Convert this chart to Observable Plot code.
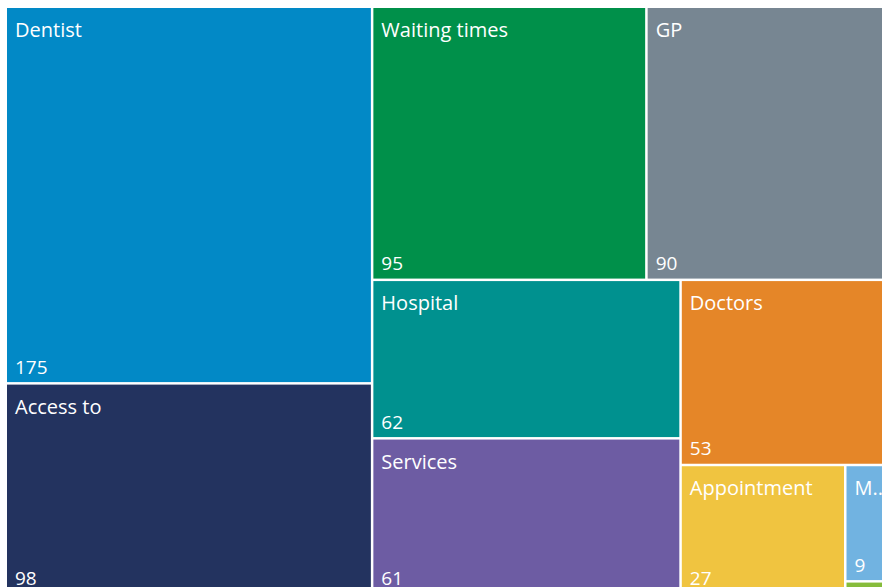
<!DOCTYPE html>
<html>
<head>
<meta charset="utf-8">
<script src="https://cdn.jsdelivr.net/npm/d3@7"></script>
<script src="https://cdn.jsdelivr.net/npm/@observablehq/plot@0.6"></script>
<style>
  html, body { margin: 0; padding: 0; background: #ffffff; }
  #chart { width: 882px; height: 587px; overflow: hidden; }
  svg { display: block; }
</style>
</head>
<body>
<div id="chart"></div>
<script>
// Data
const categories = ["Dentist", "Access to", "Waiting times", "GP", "Hospital", "Services", "Doctors", "Appointment", "M..", "Other"];
const values = [175, 98, 95, 90, 62, 61, 53, 27, 9, 1];
const colors = ["#0289C6", "#23335F", "#00904A", "#778692", "#00918F", "#6D5CA3", "#E58628", "#F0C440", "#71B3E1", "#86BC3B"];

const W = 882, H = 587;

const root = d3.hierarchy({children: categories.map((name, i) => ({name, value: values[i]}))})
  .sum(d => d.value || 0)
  .sort((a, b) => b.value - a.value);

d3.treemap()
  .tile(d3.treemapSquarify)
  .size([898, 585])
  .paddingInner(2.5)
  .round(false)(root);

const leaves = root.leaves().map(l => ({
  name: l.data.name,
  value: l.data.value,
  x0: l.x0 + 7, y0: l.y0 + 8, x1: l.x1 + 7, y1: l.y1 + 8
}));
const labeled = leaves.filter(d => d.y1 - d.y0 > 40);

const plot = Plot.plot({
  width: W,
  height: H,
  margin: 0,
  x: {type: "identity", axis: null},
  y: {type: "identity", axis: null},
  color: {type: "ordinal", domain: categories, range: colors},
  style: {fontFamily: "'Open Sans', 'Noto Sans', sans-serif", background: "#ffffff"},
  marks: [
    Plot.rect(leaves, {x1: "x0", y1: "y0", x2: "x1", y2: "y1", fill: "name"}),
    Plot.text(labeled, {x: "x0", y: "y0", text: "name", dx: 7.5, dy: 28.5, textAnchor: "start", lineAnchor: "bottom", fill: "white", fontSize: 20}),
    Plot.text(labeled, {x: "x0", y: "y1", text: d => String(d.value), dx: 7.5, dy: -9, textAnchor: "start", lineAnchor: "bottom", fill: "white", fontSize: 19})
  ]
});
document.getElementById("chart").appendChild(plot);
</script>
</body>
</html>
